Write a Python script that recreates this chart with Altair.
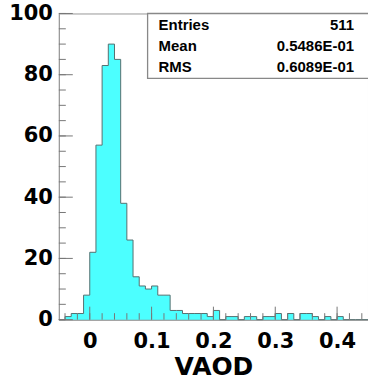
import altair as alt
import pandas as pd

# ---- data ----
BIN_START = -0.05
BIN_WIDTH = 0.01
COUNTS = [0, 1, 2, 2, 8, 22, 57, 83, 90, 85,
          38, 26, 14, 11, 10, 11, 8, 8, 3, 3,
          2, 2, 2, 2, 1, 3, 0, 1, 1, 0,
          1, 1, 0, 1, 1, 2, 0, 2, 0, 2,
          2, 1, 0, 1, 0, 1, 0, 0, 0, 0]
X_MAJOR = [0.0, 0.1, 0.2, 0.3, 0.4]
X_MINOR = [-0.04, -0.02, 0.0, 0.02, 0.04, 0.06, 0.08, 0.10, 0.12, 0.14, 0.16,
           0.18, 0.20, 0.22, 0.24, 0.26, 0.28, 0.30, 0.32, 0.34, 0.36, 0.38,
           0.40, 0.42, 0.44]
Y_MAJOR = [0, 20, 40, 60, 80, 100]
Y_MINOR = [0, 5, 10, 15, 20, 25, 30, 35, 40, 45, 50, 55, 60, 65, 70, 75, 80,
           85, 90, 95, 100]
STAT_NAMES = ["Entries", "Mean", "RMS"]
STAT_VALUES = ["511", "0.5486E-01", "0.6089E-01"]
X_TITLE = "VAOD"

# ---- layout / style ----
W, H = 310, 307
FILL = "#00FFFF"
OUTLINE = "#557070"
FRAME = "#999999"
TICK = "#777777"
AXFONT = "DejaVu Sans"

edges = [round(BIN_START + i * BIN_WIDTH, 2) for i in range(len(COUNTS) + 1)]
hist = pd.DataFrame({"x": edges, "n": COUNTS + [0]})

xs = alt.Scale(domain=[-0.05, 0.45], nice=False, zero=False)
ys = alt.Scale(domain=[0, 100], nice=False, zero=True)

xax = alt.Axis(values=X_MAJOR, format="~g", tickSize=0, ticks=False,
               labelPadding=11, labelFont=AXFONT, labelFontWeight="bold",
               labelFontSize=21, labelColor="black", labelFlush=False,
               labelOverlap=False, grid=False, domainColor=FRAME,
               titleFont=AXFONT, titleFontWeight="bold", titleFontSize=25,
               titleColor="black", titleBaseline="alphabetic", titleY=55.5)
yax = alt.Axis(values=Y_MAJOR, tickSize=0, ticks=False, labelPadding=6.5,
               labelFont=AXFONT, labelFontWeight="bold", labelFontSize=21,
               labelColor="black", labelFlush=False, labelOverlap=False,
               labelBaseline="middle", grid=False, domainColor=FRAME)

area = alt.Chart(hist).mark_area(
    interpolate="step-after", color=FILL,
    line={"color": OUTLINE, "strokeWidth": 1}
).encode(
    x=alt.X("x:Q", scale=xs, title=X_TITLE, axis=xax),
    y=alt.Y("n:Q", scale=ys, title=None, axis=yax),
)

def xticks(vals, length):
    return alt.Chart(pd.DataFrame({"x": vals})).mark_rule(color=TICK, strokeWidth=1).encode(
        x=alt.X("x:Q", scale=xs, title=X_TITLE, axis=xax),
        y=alt.value(H), y2=alt.value(H - length))

def yticks(vals, length):
    return alt.Chart(pd.DataFrame({"n": vals})).mark_rule(color=TICK, strokeWidth=1).encode(
        y=alt.Y("n:Q", scale=ys, title=None, axis=yax),
        x=alt.value(0), x2=alt.value(length))

box = alt.Chart(pd.DataFrame({"a": [0]})).mark_rect(
    fill="white", stroke="#888888", strokeWidth=1.3
).encode(x=alt.value(89), x2=alt.value(318), y=alt.value(0), y2=alt.value(65))

stats = pd.DataFrame({"names": ["\n".join(STAT_NAMES)], "vals": ["\n".join(STAT_VALUES)]})
names = alt.Chart(stats).mark_text(
    align="left", baseline="alphabetic", font="Liberation Sans", fontWeight="bold",
    fontSize=15, lineBreak="\n", lineHeight=21, color="black"
).encode(x=alt.value(100), y=alt.value(16.7), text="names:N")
vals = alt.Chart(stats).mark_text(
    align="right", baseline="alphabetic", font="Liberation Sans", fontWeight="bold",
    fontSize=15, lineBreak="\n", lineHeight=21, color="black"
).encode(x=alt.value(296), y=alt.value(16.7), text="vals:N")

chart = alt.layer(
    area,
    xticks(X_MINOR, 6.5), xticks(X_MAJOR, 13),
    yticks(Y_MINOR, 7), yticks(Y_MAJOR, 14),
    box, names, vals,
).properties(
    width=W, height=H,
    autosize=alt.AutoSizeParams(type="none"),
    padding={"left": 59, "top": 13, "right": 0, "bottom": 61},
    background="white",
).configure_view(stroke=FRAME, strokeWidth=1)

chart.save("out.html", embed_options={"renderer": "svg", "actions": False})
